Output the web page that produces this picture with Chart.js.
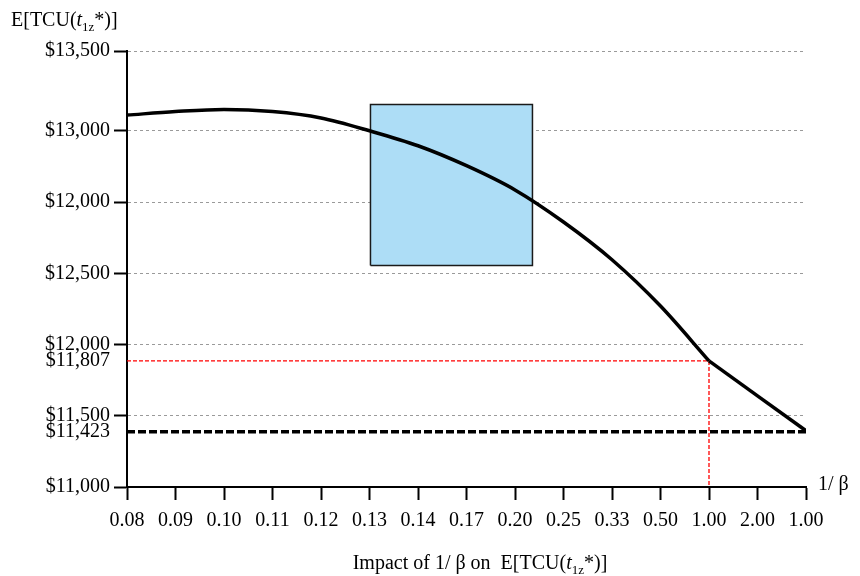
<!DOCTYPE html>
<html>
<head>
<meta charset="utf-8">
<script src="https://cdn.jsdelivr.net/npm/chart.js@4.4.1/dist/chart.umd.min.js"></script>
<style>
  html, body { margin: 0; padding: 0; background: #fff; }
  #wrap { width: 860px; height: 576px; }
</style>
</head>
<body>
<div id="wrap"><canvas id="chart" width="860" height="576"></canvas></div>
<script>
// x categories (1/beta), equally spaced
const xLabels = ['0.08', '0.09', '0.10', '0.11', '0.12', '0.13', '0.14', '0.17', '0.20', '0.25', '0.33', '0.50', '1.00', '2.00', '1.00']

// y axis is drawn in "grid units" (one unit per gridline), labels as printed
const yTickPos = [0, 0.775, 1, 1.77, 2, 3, 4, 5, 6.12]
const yTickLabels = ['$11,000', '$11,423', '$11,500', '$11,807', '$12,000', '$12,500', '$12,000', '$13,000', '$13,500']
const yGridPos = [1, 2, 3, 4, 5, 6.12]
const yNoTickMark = [0.775, 1.77]

// E[TCU] curve, one value per category (smooth up to 1.00, straight after)
const curveValues = [5.22, 5.27, 5.30, 5.27, 5.18, 5.00, 4.79, 4.51, 4.17, 3.72, 3.19, 2.54, 1.77, 1.28, 0.79]
const kinkIndex = 12

// $11,423 reference level and the $11,807 marker at 1/beta = 1.00
const baseLevel = 0.775
const markerIndex = 12
const markerLevel = 1.77

// shaded box
const boxX = [5.02, 8.36]
const boxY = [3.11, 5.37]

const SERIF = "'Liberation Serif', 'Times New Roman', serif"

function drawRich(ctx, x, y, parts, align) {
  let total = 0
  parts.forEach(p => { ctx.font = p.font; total += ctx.measureText(p.text).width })
  let cx = align === 'center' ? x - total / 2 : x
  ctx.save()
  ctx.fillStyle = '#000'
  ctx.textBaseline = 'alphabetic'
  ctx.textAlign = 'left'
  parts.forEach(p => {
    ctx.font = p.font
    ctx.fillText(p.text, cx, y + (p.dy || 0))
    cx += ctx.measureText(p.text).width
  })
  ctx.restore()
}

function tcuParts(prefix) {
  return [
    { text: prefix + 'E[TCU(', font: `20px ${SERIF}` },
    { text: 't', font: `italic 20px ${SERIF}` },
    { text: '1z', font: `13px ${SERIF}`, dy: 5 },
    { text: '*)]', font: `20px ${SERIF}` }
  ]
}

const titlesPlugin = {
  id: 'titles',
  afterDraw(chart) {
    const ctx = chart.ctx
    const area = chart.chartArea
    drawRich(ctx, 11, 26, tcuParts(''), 'left')
    drawRich(ctx, 480, 569, tcuParts('Impact of 1/ \u03b2 on  '), 'center')
    drawRich(ctx, area.right + 12, 490, [{ text: '1/ \u03b2', font: `20px ${SERIF}` }], 'left')
  }
}

const curveData = curveValues.map((v, i) => ({ x: i, y: v }))

new Chart(document.getElementById('chart'), {
  type: 'line',
  data: {
    datasets: [
      {
        data: curveData.slice(0, kinkIndex + 1),
        borderColor: '#000',
        borderWidth: 3.5,
        pointRadius: 0,
        cubicInterpolationMode: 'monotone',
        fill: false
      },
      {
        data: curveData.slice(kinkIndex),
        borderColor: '#000',
        borderWidth: 3.5,
        pointRadius: 0,
        tension: 0,
        fill: false
      },
      {
        data: [{ x: 0, y: baseLevel }, { x: xLabels.length - 1, y: baseLevel }],
        borderColor: '#000',
        borderWidth: 3.5,
        borderDash: [8, 3],
        pointRadius: 0,
        fill: false
      },
      {
        data: [{ x: 0, y: markerLevel }, { x: markerIndex, y: markerLevel }, { x: markerIndex, y: 0 }],
        borderColor: '#ff0000',
        borderWidth: 1.3,
        borderDash: [4, 2],
        pointRadius: 0,
        fill: false
      },
      {
        data: [
          { x: boxX[0], y: boxY[0] }, { x: boxX[0], y: boxY[1] }, { x: boxX[1], y: boxY[1] },
          { x: boxX[1], y: boxY[0] }, { x: boxX[0], y: boxY[0] }
        ],
        borderColor: '#1a1a1a',
        borderWidth: 1.5,
        pointRadius: 0,
        fill: false
      },
      {
        data: [{ x: boxX[0], y: boxY[1] }, { x: boxX[1], y: boxY[1] }],
        borderWidth: 0,
        borderColor: 'rgba(0,0,0,0)',
        backgroundColor: 'rgb(173, 221, 246)',
        pointRadius: 0,
        fill: { value: boxY[0] }
      }
    ]
  },
  options: {
    responsive: false,
    animation: false,
    layout: { padding: { left: 0, top: 51, right: 54, bottom: 0 } },
    plugins: {
      legend: { display: false },
      title: { display: false },
      tooltip: { enabled: false }
    },
    scales: {
      x: {
        type: 'linear',
        min: 0,
        max: xLabels.length - 1,
        afterFit: scale => { scale.height = 89 },
        ticks: {
          stepSize: 1,
          autoSkip: false,
          maxRotation: 0,
          padding: 9,
          color: '#000',
          font: { family: SERIF, size: 20 },
          callback: value => xLabels[value]
        },
        grid: {
          drawOnChartArea: false,
          tickLength: 13,
          tickWidth: 2,
          tickColor: '#000'
        },
        border: { color: '#000', width: 2 }
      },
      y: {
        type: 'linear',
        min: 0,
        max: yTickPos[yTickPos.length - 1],
        afterFit: scale => { scale.width = 127 },
        afterBuildTicks: scale => { scale.ticks = yTickPos.map(v => ({ value: v })) },
        ticks: {
          autoSkip: false,
          padding: 4,
          color: '#000',
          font: { family: SERIF, size: 20 },
          callback: (value, index) => yTickLabels[index]
        },
        grid: {
          color: ctx => (ctx.tick && yGridPos.includes(ctx.tick.value)) ? '#9a9a9a' : 'rgba(0,0,0,0)',
          lineWidth: 1,
          tickLength: 13,
          tickWidth: 2,
          tickColor: ctx => (ctx.tick && yNoTickMark.includes(ctx.tick.value)) ? 'rgba(0,0,0,0)' : '#000'
        },
        border: { color: '#000', width: 2, dash: [3, 3] }
      }
    }
  },
  plugins: [titlesPlugin]
})
</script>
</body>
</html>
